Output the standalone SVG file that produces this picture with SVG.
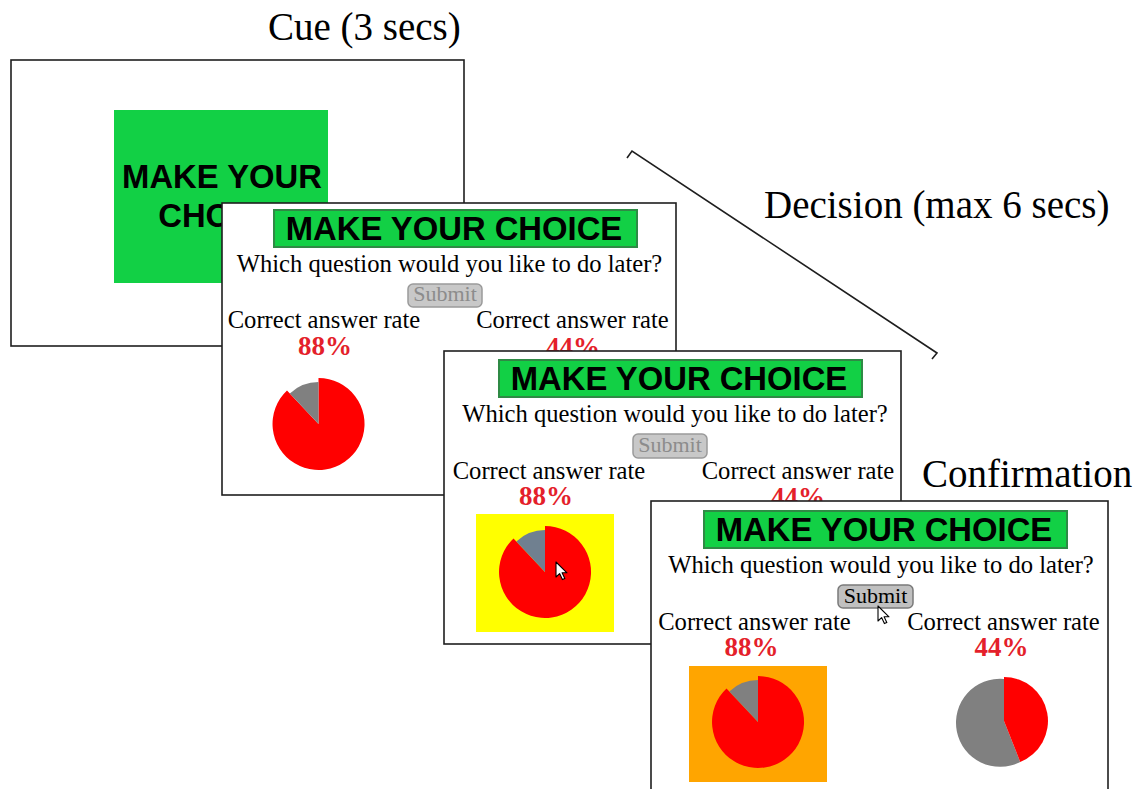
<svg xmlns="http://www.w3.org/2000/svg" width="1142" height="789" viewBox="0 0 1142 789">
  <style>
    .frame { fill: #ffffff; stroke: #1e1e1e; stroke-width: 1.6; }
    .phase { font-family: "Liberation Serif", serif; font-size: 39px; fill: #000; }
    .bar { fill: #12d045; stroke: #2f8a45; stroke-width: 2; }
    .head { font-family: "Liberation Sans", Arial, sans-serif; font-weight: bold; font-size: 32.8px; fill: #000; text-anchor: middle; }
    .ask { font-family: "Liberation Serif", serif; font-size: 24.6px; fill: #000; text-anchor: middle; }
    .rate { font-family: "Liberation Serif", serif; font-weight: bold; font-size: 27px; fill: #e41f2b; text-anchor: middle; }
    .btn-off { fill: #c8c8c8; stroke: #9a9a9a; stroke-width: 1.5; }
    .btn-on { fill: #c0c0c0; stroke: #7a7a7a; stroke-width: 1.5; }
    .btn-text { font-family: "Liberation Serif", serif; font-size: 22px; text-anchor: middle; }
    .cursor { fill: #ffffff; stroke: #000; stroke-width: 1.1; stroke-linejoin: round; }
  </style>
  <defs>
    <!-- 88% pie: red share and the remaining 12% slice -->
    <path id="share88" d="M0,0 V-46 A46,46 0 1 1 -31.5,-33.5 Z" fill="#ff0000"/>
    <path id="rest12" d="M0,0 L-28.7,-30.6 A42,42 0 0 1 0,-42 Z"/>
    <!-- mouse pointer -->
    <path id="pointer" class="cursor" d="M0,0 V15 L3.6,11.6 L6.4,17.6 L8.8,16.6 L6.1,10.8 H11 Z"/>
  </defs>

  <rect width="1142" height="789" fill="#ffffff"/>

  <!-- phase labels -->
  <g id="labels">
    <text class="phase" x="268" y="40">Cue (3 secs)</text>
    <text class="phase" x="764" y="218">Decision (max 6 secs)</text>
    <text class="phase" x="922" y="487">Confirmation</text>
  </g>

  <!-- cue screen -->
  <g id="cue">
    <rect class="frame" x="11" y="60" width="453" height="286"/>
    <rect x="114" y="110" width="214" height="173" fill="#12d045"/>
    <text class="head" x="222" y="188">MAKE YOUR</text>
    <text class="head" x="222" y="227">CHOICE</text>
  </g>

  <!-- decision screen, nothing selected -->
  <g id="decision1">
    <rect class="frame" x="222" y="203" width="454" height="292"/>
    <rect class="bar" x="274" y="210" width="363" height="37"/>
    <text class="head" x="454" y="240">MAKE YOUR CHOICE</text>
    <text class="ask" x="449.5" y="272">Which question would you like to do later?</text>
    <rect class="btn-off" x="408" y="284" width="74" height="23" rx="5"/>
    <text class="btn-text" x="445" y="301" fill="#8c8c8c">Submit</text>
    <text class="ask" x="324" y="328">Correct answer rate</text>
    <text class="ask" x="572.5" y="328">Correct answer rate</text>
    <text class="rate" x="325" y="355">88%</text>
    <text class="rate" x="573" y="356">44%</text>
    <g transform="translate(318.5,424)">
      <use href="#share88"/>
      <use href="#rest12" fill="#808080"/>
    </g>
  </g>

  <!-- decision screen, left option hovered -->
  <g id="decision2">
    <rect class="frame" x="444" y="351" width="457" height="293"/>
    <rect class="bar" x="499" y="360" width="363" height="37"/>
    <text class="head" x="679" y="390">MAKE YOUR CHOICE</text>
    <text class="ask" x="675" y="422">Which question would you like to do later?</text>
    <rect class="btn-off" x="633" y="434" width="74" height="24" rx="5"/>
    <text class="btn-text" x="670" y="452" fill="#8c8c8c">Submit</text>
    <text class="ask" x="549" y="479">Correct answer rate</text>
    <text class="ask" x="798" y="479">Correct answer rate</text>
    <text class="rate" x="546" y="505">88%</text>
    <text class="rate" x="798" y="506">44%</text>
    <rect x="476" y="514" width="138" height="118" fill="#ffff00"/>
    <g transform="translate(545,572)">
      <use href="#share88"/>
      <use href="#rest12" fill="#708090"/>
    </g>
    <use href="#pointer" x="556" y="562"/>
  </g>

  <!-- confirmation screen, left option selected -->
  <g id="confirmation">
    <rect class="frame" x="651" y="501" width="457" height="300"/>
    <rect class="bar" x="704" y="511" width="363" height="37"/>
    <text class="head" x="884" y="541">MAKE YOUR CHOICE</text>
    <text class="ask" x="881" y="573">Which question would you like to do later?</text>
    <rect class="btn-on" x="838" y="585" width="75" height="23" rx="5"/>
    <text class="btn-text" x="875.5" y="603" fill="#000">Submit</text>
    <text class="ask" x="754.5" y="630">Correct answer rate</text>
    <text class="ask" x="1003.5" y="630">Correct answer rate</text>
    <text class="rate" x="751.5" y="656">88%</text>
    <text class="rate" x="1001.5" y="656">44%</text>
    <rect x="689" y="666" width="138" height="116" fill="#ffa500"/>
    <g transform="translate(758,722)">
      <use href="#share88"/>
      <use href="#rest12" fill="#808080"/>
    </g>
    <g transform="translate(1004,721)">
      <path d="M0,0 L16.2,40.9 A44,44 0 1 1 0,-42 Z" fill="#808080"/>
      <path d="M0,0 V-44 A44,44 0 0 1 16.2,40.9 Z" fill="#ff0000"/>
    </g>
    <use href="#pointer" x="878" y="606"/>
  </g>

  <!-- bracket spanning the decision phase -->
  <g id="connectors">
    <polyline points="627,158 632,151 937,353 932,359" fill="none" stroke="#1e1e1e" stroke-width="1.6"/>
  </g>
</svg>
